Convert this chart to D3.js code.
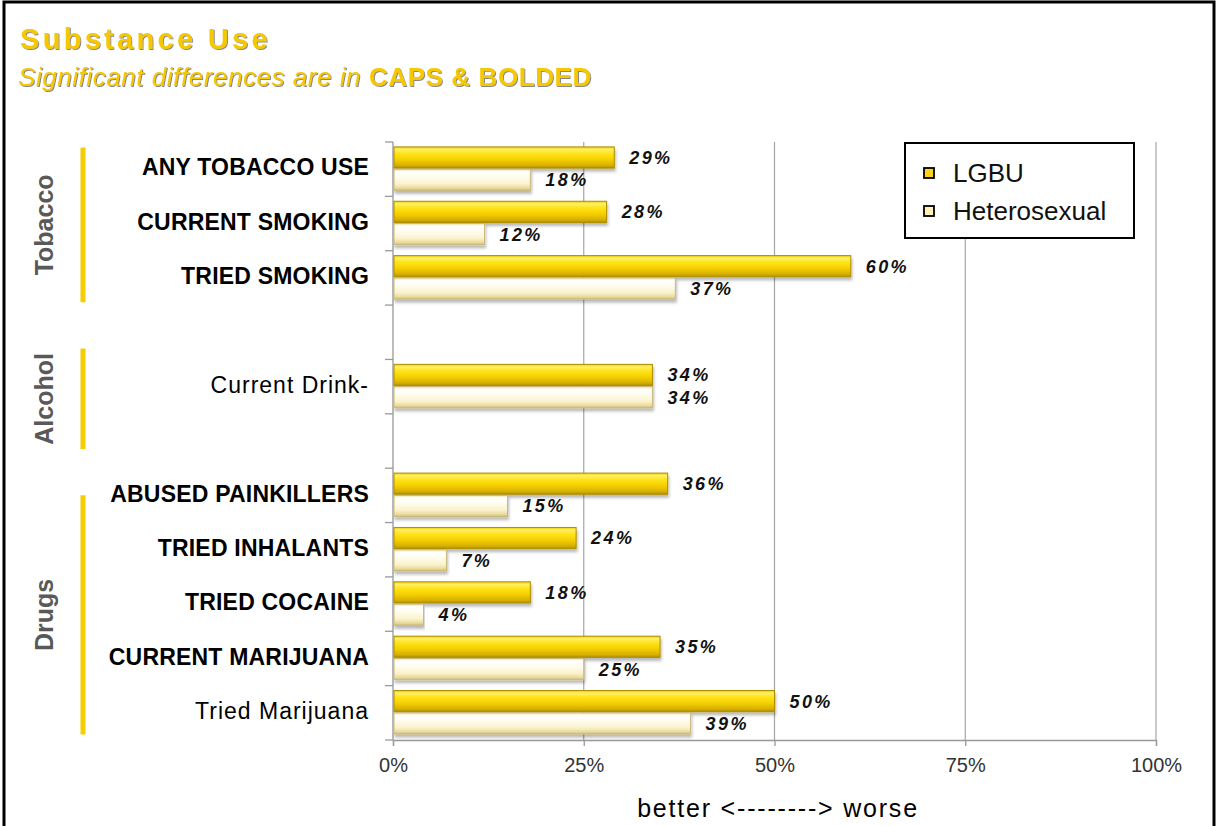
<!DOCTYPE html>
<html><head><meta charset="utf-8">
<script src="https://cdn.jsdelivr.net/npm/d3@7"></script>
<style>
html,body{margin:0;padding:0;background:#fff;}
svg{display:block;}
text{font-family:"Liberation Sans",Arial,sans-serif;}
</style></head>
<body>
<svg id="chart" width="1217" height="826"></svg>
<script>
const categories = ["ANY TOBACCO USE","CURRENT SMOKING","TRIED SMOKING","","Current Drink-","","ABUSED PAINKILLERS","TRIED INHALANTS","TRIED COCAINE","CURRENT MARIJUANA","Tried Marijuana"];
const significant = [true,true,true,false,false,false,true,true,true,true,false];
const lgbu =   [29,28,60,null,34,null,36,24,18,35,50];
const hetero = [18,12,37,null,34,null,15,7,4,25,39];
const seriesNames = ["LGBU","Heterosexual"];
const xTicks = [0,25,50,75,100];
const groupNames = ["Tobacco","Alcohol","Drugs"];
const groupSpans = [[0.1,2.95],[3.8,5.65],[6.5,10.9]];

const svg = d3.select("#chart");
const defs = svg.append("defs");

function grad(id, stops){
  const g = defs.append("linearGradient").attr("id",id).attr("x1",0).attr("y1",0).attr("x2",0).attr("y2",1);
  stops.forEach(s=>g.append("stop").attr("offset",s[0]).attr("stop-color",s[1]));
}
grad("gGold",[[0,"#f0cc00"],[0.12,"#fff06a"],[0.3,"#ffe41a"],[0.6,"#f5cf00"],[0.88,"#d6ae00"],[1,"#b08e00"]]);
grad("gCream",[[0,"#efe2a8"],[0.12,"#ffffff"],[0.35,"#fffdf0"],[0.7,"#fbf2cc"],[0.9,"#e8d99a"],[1,"#cbbb7c"]]);
const sh = defs.append("filter").attr("id","barShadow").attr("x","-5%").attr("y","-20%").attr("width","110%").attr("height","160%");
sh.append("feDropShadow").attr("dx",1).attr("dy",3).attr("stdDeviation",1.5).attr("flood-color","#000").attr("flood-opacity",0.28);
const tsh = defs.append("filter").attr("id","textShadow").attr("x","-5%").attr("y","-20%").attr("width","110%").attr("height","160%");
tsh.append("feDropShadow").attr("dx",1).attr("dy",1).attr("stdDeviation",0.6).attr("flood-color","#555").attr("flood-opacity",0.7);

// outer frame
svg.append("rect").attr("x",4).attr("y",2).attr("width",1210).attr("height",840)
  .attr("fill","none").attr("stroke","#000").attr("stroke-width",3);

// titles
const gold = "#f5c800";
svg.append("text").attr("x",20).attr("y",49).attr("fill",gold).attr("filter","url(#textShadow)")
  .style("font-size","29px").style("font-weight","bold").style("letter-spacing","3.3px").text("Substance Use");
const sub = svg.append("text").attr("x",18).attr("y",86).attr("fill",gold).attr("filter","url(#textShadow)")
  .style("font-size","26px");
sub.append("tspan").style("font-style","italic").style("letter-spacing","0.55px").text("Significant differences are in ");
sub.append("tspan").style("font-weight","bold").style("letter-spacing","0.6px").text("CAPS & BOLDED");

// scales
const x = d3.scaleLinear().domain([0,100]).range([393,1156]);
const y = d3.scaleBand().domain(d3.range(categories.length)).range([142,740]).paddingInner(0).paddingOuter(0);
const bw = y.bandwidth();
const ys = d3.scaleBand().domain(seriesNames).range([bw*0.09, bw*0.89]).paddingInner(0.05);
const yl = d3.scaleLinear().domain([0,categories.length]).range([142,740]);

// gridlines
svg.append("g").selectAll("line").data(xTicks.filter(d=>d>0)).join("line")
  .attr("x1",d=>x(d)).attr("x2",d=>x(d)).attr("y1",142).attr("y2",740)
  .attr("stroke","#a6a6a6").attr("stroke-width",1.2);

// x axis
const xAxis = svg.append("g").attr("transform","translate(0,740)")
  .call(d3.axisBottom(x).tickValues(xTicks).tickFormat(d=>d+"%").tickSize(6).tickPadding(12));
xAxis.select(".domain").attr("stroke","#999").attr("stroke-width",1.3);
xAxis.selectAll(".tick line").attr("stroke","#999").attr("stroke-width",1.3);
xAxis.selectAll("text").style("font-size","20px").attr("fill","#333").style("font-family","Liberation Sans, Arial, sans-serif");

// y axis line + ticks at boundaries
svg.append("line").attr("x1",393).attr("x2",393).attr("y1",142).attr("y2",740).attr("stroke","#999").attr("stroke-width",1.3);
svg.append("g").selectAll("line").data(d3.range(categories.length+1)).join("line")
  .attr("x1",385).attr("x2",393).attr("y1",d=>yl(d)).attr("y2",d=>yl(d)).attr("stroke","#999").attr("stroke-width",1.3);

// bars
const rows = categories.map((c,i)=>({i, c, vals:[lgbu[i],hetero[i]]}));
const rowG = svg.append("g").selectAll("g").data(rows.filter(r=>r.vals[0]!=null)).join("g")
  .attr("transform",d=>`translate(0,${y(d.i)})`);
rowG.selectAll("rect").data(d=>d.vals.map((v,k)=>({v,k}))).join("rect")
  .attr("x",x(0)+1).attr("y",d=>ys(seriesNames[d.k]))
  .attr("width",d=>x(d.v)-x(0)-1).attr("height",ys.bandwidth())
  .attr("fill",d=>d.k===0?"url(#gGold)":"url(#gCream)")
  .attr("stroke",d=>d.k===0?"#ad8e00":"#c9b97a").attr("stroke-width",1)
  .attr("filter","url(#barShadow)");
rowG.selectAll("text").data(d=>d.vals.map((v,k)=>({v,k}))).join("text")
  .attr("x",d=>x(d.v)+15).attr("y",d=>ys(seriesNames[d.k])+ys.bandwidth()/2).attr("dy","0.36em")
  .style("font-size","18px").style("font-style","italic").style("font-weight","600").style("letter-spacing","2.4px")
  .attr("fill","#111").text(d=>d.v+"%");

// category labels
svg.append("g").selectAll("text").data(rows.filter(r=>r.c!=="")).join("text")
  .attr("x",369).attr("y",d=>y(d.i)+bw/2-2).attr("dy","0.36em").attr("text-anchor","end")
  .style("font-size","23px").style("font-weight",d=>significant[d.i]?"bold":"normal")
  .style("letter-spacing",d=>significant[d.i]?"0.2px":"1px")
  .attr("fill","#000").text(d=>d.c);

// groups
const gg = svg.append("g").selectAll("g").data(groupNames.map((n,k)=>({n,s:groupSpans[k]}))).join("g");
gg.append("line").attr("x1",83).attr("x2",83).attr("y1",d=>yl(d.s[0])).attr("y2",d=>yl(d.s[1]))
  .attr("stroke","#f5cd00").attr("stroke-width",5);
gg.append("text").attr("transform",d=>`translate(53,${(yl(d.s[0])+yl(d.s[1]))/2}) rotate(-90)`)
  .attr("text-anchor","middle")
  .style("font-size","25px").style("font-weight","bold")
  .attr("fill","#595959").text(d=>d.n);

// x axis title
svg.append("text").attr("x",778).attr("y",817).attr("text-anchor","middle")
  .style("font-size","25px").style("letter-spacing","1.8px").attr("fill","#000").text("better <--------> worse");

// legend
const lg = svg.append("g").attr("transform","translate(905,143)");
lg.append("rect").attr("width",229).attr("height",95).attr("fill","#fff").attr("stroke","#000").attr("stroke-width",2);
const li = lg.selectAll("g").data(seriesNames).join("g").attr("transform",(d,k)=>`translate(0,${30+k*38})`);
li.append("rect").attr("x",19).attr("y",-5).attr("width",10).attr("height",10)
  .attr("fill",(d,k)=>k===0?"#ffd21a":"#fff0b8").attr("stroke","#000").attr("stroke-width",1.8);
li.append("text").attr("x",48).attr("y",9).style("font-size","26px").attr("fill","#111").text(d=>d);
</script>
</body></html>
